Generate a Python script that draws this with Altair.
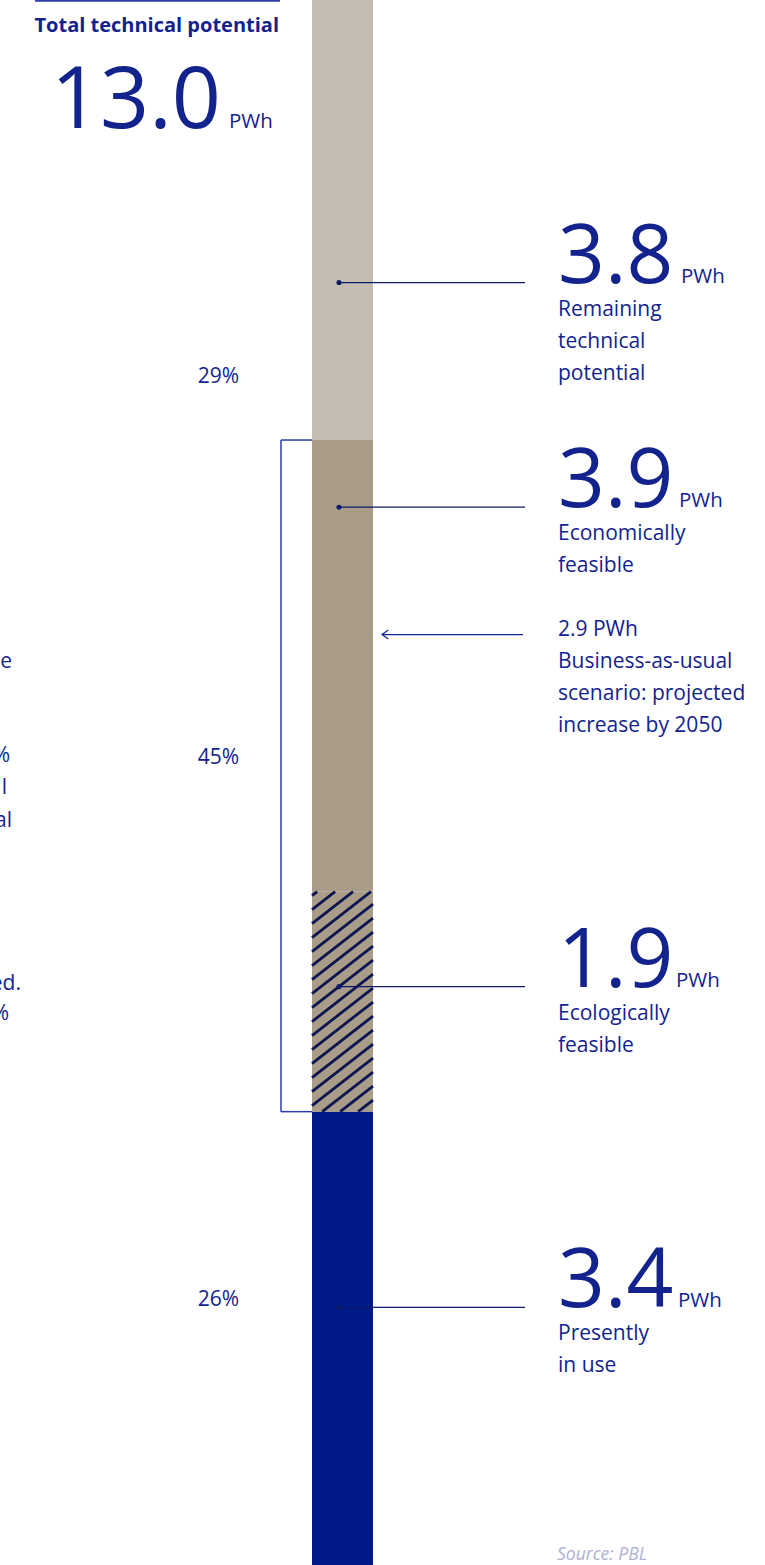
import altair as alt
import pandas as pd
import numpy as np

# ---- values (PWh), stacked from the bottom of the column upwards ----
segment_names = ["Presently in use", "Ecologically feasible",
                 "Economically feasible", "Remaining technical potential"]
segment_pwh = [3.4, 1.9, 3.9, 3.8]
segment_colors = ["#001a88", "#a99c89", "#a99c89", "#c5bdb2"]
segment_descriptions = ["Presently\nin use", "Ecologically\nfeasible",
                        "Economically\nfeasible", "Remaining\ntechnical\npotential"]
# where each leader line meets the column (PWh on the vertical scale)
segment_anchor_pwh = [1.71, 4.48, 8.62, 10.56]
# left edge of the small "PWh" unit after each big number
unit_x = [678, 676, 679, 681]

# share brackets: segments summed per share label
share_groups = [[3], [1, 2], [0]]
share_label_pwh = [9.74, 6.45, 1.77]

bau_pwh = 2.9
bau_text = f"{bau_pwh} PWh\nBusiness-as-usual\nscenario: projected\nincrease by 2050"
bau_arrow_pwh = 7.52

left_fragments = ["e", "%", "l", "al", "ed.", "%"]
left_fragment_right = [12, 10, 7, 12, 21, 9]
left_fragment_baseline = [668, 762, 794, 827, 990, 1020]

# ---- layout ----
W, H = 765, 1565
YMAX = 13.0
YMIN = -0.515
BAR_L, BAR_R = 312, 373
DOT_X, LEADER_END = 339, 525
TEXT_X = 558
BRACKET_X = 281

NAVY = "#13238e"
DARK = "#0d1a6a"
HATCH = "#0d1650"
BRACKET = "#2b3cab"
FONT = "Open Sans"
BODY = 21

px_per_pwh = H / (YMAX - YMIN)


def to_pwh(p):
    return YMAX - p / px_per_pwh


def X(field, **kw):
    return alt.X(field, type="quantitative", axis=None,
                 scale=alt.Scale(domain=[0, W], nice=False, zero=False), **kw)


def Y(field, **kw):
    return alt.Y(field, type="quantitative", axis=None,
                 scale=alt.Scale(domain=[YMIN, YMAX], nice=False, zero=False), **kw)


total = sum(segment_pwh)
ends = np.cumsum(segment_pwh)
starts = ends - np.array(segment_pwh)

seg = pd.DataFrame({
    "name": segment_names, "pwh": segment_pwh,
    "start": starts, "end": ends,
    "x": BAR_L, "x2": BAR_R,
    "anchor": segment_anchor_pwh,
    "dot_x": DOT_X, "lead_x": LEADER_END, "text_x": TEXT_X,
    "big": [f"{v:.1f}" for v in segment_pwh],
    "unit_x": unit_x,
    "desc": segment_descriptions,
})
seg["desc_y"] = seg["anchor"] - 33 / px_per_pwh

# column base that runs on to the bottom edge
base = alt.Chart(seg.iloc[[0]]).mark_rect(color=segment_colors[0]).encode(
    x=X("x"), x2="x2", y=Y("end"), y2=alt.value(H))

bars = alt.Chart(seg).mark_rect().encode(
    x=X("x"), x2="x2", y=Y("start"), y2="end",
    color=alt.Color("name:N", legend=None,
                    scale=alt.Scale(domain=segment_names, range=segment_colors)))

# diagonal hatching over the ecologically feasible part
h_top = (YMAX - ends[1]) * px_per_pwh
h_bot = (YMAX - starts[1]) * px_per_pwh
bw = BAR_R - BAR_L
slope = 0.78
step = 14.0
rows = []
c = h_top + 4
while c < h_bot + bw * slope:
    t0 = max(0.0, (c - h_bot) / slope)
    t1 = min(float(bw), (c - h_top) / slope)
    if t1 > t0:
        rows.append({"x": BAR_L + t0, "x2": BAR_L + t1,
                     "y": to_pwh(c - slope * t0), "y2": to_pwh(c - slope * t1)})
    c += step
hatch = alt.Chart(pd.DataFrame(rows)).mark_rule(
    color=HATCH, strokeWidth=2.8).encode(x=X("x"), x2="x2", y=Y("y"), y2="y2")

# bracket around economically + ecologically feasible
b_lo, b_hi = starts[1], ends[2]
bracket_df = pd.DataFrame({
    "x": [BRACKET_X, BRACKET_X, BRACKET_X],
    "x2": [BRACKET_X, BAR_L, BAR_L],
    "y": [b_lo, b_lo, b_hi],
    "y2": [b_hi, b_lo, b_hi]})
bracket = alt.Chart(bracket_df).mark_rule(color=BRACKET, strokeWidth=1.5).encode(
    x=X("x"), x2="x2", y=Y("y"), y2="y2")

leaders = alt.Chart(seg).mark_rule(color=DARK, strokeWidth=1.2).encode(
    x=X("dot_x"), x2="lead_x", y=Y("anchor"))
dots = alt.Chart(seg).mark_circle(color=DARK, size=26, opacity=1).encode(
    x=X("dot_x"), y=Y("anchor"))

big = alt.Chart(seg).mark_text(
    font=FONT, fontSize=82, fontWeight="normal", color=NAVY,
    align="left", baseline="alphabetic").encode(
    x=X("text_x"), y=Y("anchor"), text="big")
unit = alt.Chart(seg).mark_text(
    font=FONT, fontSize=20.5, color=NAVY, align="left", baseline="alphabetic").encode(
    x=X("unit_x"), y=Y("anchor"), text=alt.value("PWh"))
desc = alt.Chart(seg).mark_text(
    font=FONT, fontSize=BODY, color=NAVY, align="left", baseline="alphabetic",
    lineBreak="\n", lineHeight=32).encode(
    x=X("text_x"), y=Y("desc_y"), text="desc")

# shares of the total
share_df = pd.DataFrame({
    "label": [f"{round(sum(segment_pwh[i] for i in g) / total * 100)}%" for g in share_groups],
    "y": share_label_pwh, "x": 218.5})
shares = alt.Chart(share_df).mark_text(
    font=FONT, fontSize=BODY, color=NAVY, align="center", baseline="middle").encode(
    x=X("x"), y=Y("y"), text="label")

# business-as-usual arrow
bau_df = pd.DataFrame({"x": [382], "x2": [523], "y": [bau_arrow_pwh],
                       "tx": [TEXT_X], "ty": [bau_arrow_pwh - 1 / px_per_pwh],
                       "text": [bau_text]})
bau_line = alt.Chart(bau_df).mark_rule(color=NAVY, strokeWidth=1.2).encode(
    x=X("x"), x2="x2", y=Y("y"))
bau_head = alt.Chart(bau_df).mark_point(
    shape="M 1.4 -1 L 0 0 L 1.4 1", filled=False, color=NAVY, strokeWidth=1.2,
    size=81, opacity=1).encode(x=X("x"), y=Y("y"))
bau_label = alt.Chart(bau_df).mark_text(
    font=FONT, fontSize=BODY, color=NAVY, align="left", baseline="alphabetic",
    lineBreak="\n", lineHeight=32).encode(
    x=X("tx"), y=Y("ty"), text="text")

# headline: total technical potential
head_df = pd.DataFrame({"total": [f"{total:.1f}"]})
top_rule = alt.Chart(head_df).mark_rule(color=BRACKET, strokeWidth=2.5).encode(
    x=alt.value(35), x2=alt.value(280), y=alt.value(0.5))
head_title = alt.Chart(head_df).mark_text(
    font=FONT, fontSize=20, fontWeight="bold", color=NAVY,
    align="right", baseline="alphabetic").encode(
    x=alt.value(279), y=alt.value(32), text=alt.value("Total technical potential"))
head_total = alt.Chart(head_df).mark_text(
    font=FONT, fontSize=86, fontWeight="normal", color=NAVY,
    align="right", baseline="alphabetic").encode(
    x=alt.value(221), y=alt.value(128), text="total")
head_unit = alt.Chart(head_df).mark_text(
    font=FONT, fontSize=20.5, color=NAVY, align="left", baseline="alphabetic").encode(
    x=alt.value(229), y=alt.value(128), text=alt.value("PWh"))

frag_df = pd.DataFrame({"t": left_fragments, "x": left_fragment_right,
                        "y": [to_pwh(p) for p in left_fragment_baseline]})
frags = alt.Chart(frag_df).mark_text(
    font=FONT, fontSize=BODY, color=NAVY, align="right", baseline="alphabetic").encode(
    x=X("x"), y=Y("y"), text="t")

source = alt.Chart(head_df).mark_text(
    font=FONT, fontSize=17.5, fontStyle="italic", color="#aeb1d2",
    align="left", baseline="alphabetic").encode(
    x=alt.value(557), y=alt.value(1560), text=alt.value("Source: PBL"))

chart = alt.layer(
    base, bars, hatch, bracket, leaders, dots, big, unit, desc, shares,
    bau_line, bau_head, bau_label, top_rule, head_title, head_total, head_unit,
    frags, source
).properties(
    width=W, height=H, padding=0, autosize=alt.AutoSizeParams(type="none")
).configure(background="white").configure_view(stroke=None)

chart.save("out.html", embed_options={"renderer": "svg", "actions": False})
